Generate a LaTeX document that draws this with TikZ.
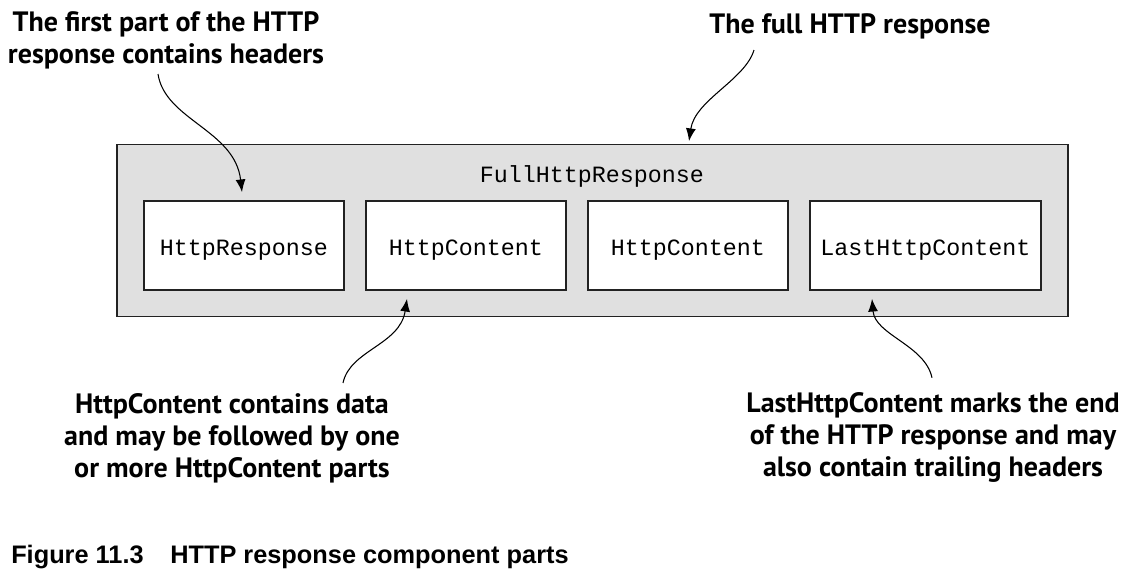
\documentclass[tikz,border=0pt]{standalone}
\usepackage{fontspec}
\setmainfont{PT Sans}
\newfontfamily\annfont{PT Sans}
\newfontfamily\capfont{Liberation Sans}
\newfontfamily\codefont{Liberation Mono}
\usetikzlibrary{arrows.meta}
\definecolor{boxgray}{HTML}{E0E0E0}
\definecolor{edge}{HTML}{222222}
\tikzset{
  outerbox/.style={draw=edge, line width=1.4pt, fill=boxgray, inner sep=0pt,
    minimum width=713.25pt, minimum height=129pt},
  innerbox/.style={draw=edge, line width=1.3pt, fill=white, inner sep=0pt,
    text height=15pt, text depth=0pt,
    minimum width=150pt, minimum height=66.75pt, font=\codefont\fontsize{17.5}{20}\selectfont},
  codelabel/.style={inner sep=0pt, font=\codefont\fontsize{17.5}{20}\selectfont},
  note/.style={align=center, inner sep=0pt, font=\annfont\bfseries\fontsize{21}{24}\selectfont},
  conn/.style={draw=black, line width=0.8pt, -{Latex[length=9.5pt,width=7.5pt]}},
}
\begin{document}
\begin{tikzpicture}[x=0.75pt,y=-0.75pt]
\useasboundingbox (0,0) rectangle (1148,578);
\node[outerbox] (full) at (592.5,230.5) {};
\node[codelabel] (fulllbl) at (592,176) {FullHttpResponse};
\node[innerbox] (r1) at (244,245.5) {HttpResponse};
\node[innerbox] (r2) at (466,245.5) {HttpContent};
\node[innerbox] (r3) at (688,245.5) {HttpContent};
\node[innerbox, minimum width=173.25pt] (r4) at (925.5,245.5) {LastHttpContent};

\node[note] (a1) at (166,40) {The first part of the HTTP\\response contains headers};
\node[note] (a2) at (850,26) {The full HTTP response};
\node[note] (a3) at (232,438) {HttpContent contains data\\and may be followed by one\\or more HttpContent parts};
\node[note] (a4) at (933,437) {LastHttpContent marks the end\\of the HTTP response and may\\also contain trailing headers};

\node[anchor=base west, inner sep=0pt, font=\capfont\bfseries\fontsize{19}{22}\selectfont] (cap) at (11,563) {Figure 11.3\hspace{20pt}HTTP response component parts};

\draw[conn] ([shift={(-8,5)}]a1.south) .. controls (165,120) and (235,130) .. ([shift={(-2,-8)}]r1.north);
\draw[conn] ([shift={(-96,11)}]a2.south) .. controls (745,80) and (695,100) .. ([shift={(96.5,-2.5)}]full.north);
\draw[conn] ([shift={(111,-10)}]a3.north) .. controls (350,350) and (400,345) .. ([shift={(-59,8)}]r2.south);
\draw[conn] ([shift={(-1,-14)}]a4.north) .. controls (925,345) and (875,335) .. ([shift={(-53.5,8)}]r4.south);
\end{tikzpicture}
\end{document}
